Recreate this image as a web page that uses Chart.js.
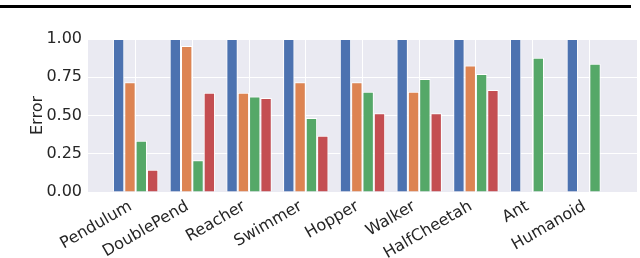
<!DOCTYPE html>
<html>
<head>
<meta charset="utf-8">
<script src="https://cdn.jsdelivr.net/npm/chart.js@4/dist/chart.umd.min.js"></script>
<style>
  body { margin: 0; background: #fff; }
  #wrap { position: relative; width: 640px; height: 258px; }
  #rule { position: absolute; left: 0; top: 5px; width: 631px; height: 3px; background: #000; }
</style>
</head>
<body>
<div id="wrap">
  <div id="rule"></div>
  <canvas id="chart" width="640" height="258"></canvas>
</div>
<script>
const categories = ['Pendulum', 'DoublePend', 'Reacher', 'Swimmer', 'Hopper', 'Walker', 'HalfCheetah', 'Ant', 'Humanoid'];
const series1 = [1, 1, 1, 1, 1, 1, 1, 1, 1];
const series2 = [0.717, 0.955, 0.649, 0.717, 0.717, 0.656, 0.826, null, null];
const series3 = [0.335, 0.207, 0.625, 0.484, 0.656, 0.739, 0.771, 0.878, 0.839];
const series4 = [0.146, 0.649, 0.614, 0.368, 0.514, 0.514, 0.667, null, null];
const yTicks = [0, 0.25, 0.5, 0.75, 1];

const colors = ['#4C72B0', '#DD8452', '#55A868', '#C44E52'];
const toPoints = arr => arr.map((v, i) => ({ x: i, y: v }));

const plotBg = {
    id: 'plotBg',
    beforeDraw(chart) {
        const { ctx, chartArea: a } = chart;
        ctx.save();
        ctx.fillStyle = '#EAEAF2';
        ctx.fillRect(a.left, a.top, a.right - a.left, a.bottom - a.top);
        ctx.restore();
    }
};

const tickFont = { family: 'DejaVu Sans', size: 16 };

new Chart(document.getElementById('chart'), {
    type: 'bar',
    data: {
        datasets: [series1, series2, series3, series4].map((s, k) => ({
            label: 'S' + (k + 1),
            data: toPoints(s),
            backgroundColor: colors[k],
            borderColor: '#ffffff',
            borderWidth: 1,
            barPercentage: 1,
            categoryPercentage: 0.8
        }))
    },
    options: {
        responsive: false,
        animation: false,
        layout: { padding: { top: 39, right: 3, left: 0, bottom: 0 } },
        plugins: { legend: { display: false }, tooltip: { enabled: false } },
        scales: {
            x: {
                type: 'linear',
                offset: false,
                min: -0.84,
                max: 8.84,
                afterBuildTicks: s => { s.ticks = categories.map((c, i) => ({ value: i })); },
                afterFit: s => { s.height = 66; },
                grid: { color: '#ffffff', lineWidth: 1, drawTicks: false, offset: false },
                border: { display: false },
                ticks: {
                    font: tickFont,
                    color: '#262626',
                    minRotation: 30,
                    maxRotation: 30,
                    padding: 5,
                    labelOffset: -5,
                    autoSkip: false,
                    callback: v => categories[v]
                }
            },
            y: {
                min: 0,
                max: 1,
                afterBuildTicks: s => { s.ticks = yTicks.map(v => ({ value: v })); },
                afterFit: s => { s.width = 88; },
                grid: { color: '#ffffff', lineWidth: 1, drawTicks: false },
                border: { display: false },
                title: {
                    display: true,
                    text: 'Error',
                    font: tickFont,
                    color: '#262626',
                    padding: { top: 28, bottom: 0 }
                },
                ticks: {
                    font: tickFont,
                    color: '#262626',
                    padding: 6,
                    callback: v => v.toFixed(2)
                }
            }
        }
    },
    plugins: [plotBg]
});
</script>
</body>
</html>
